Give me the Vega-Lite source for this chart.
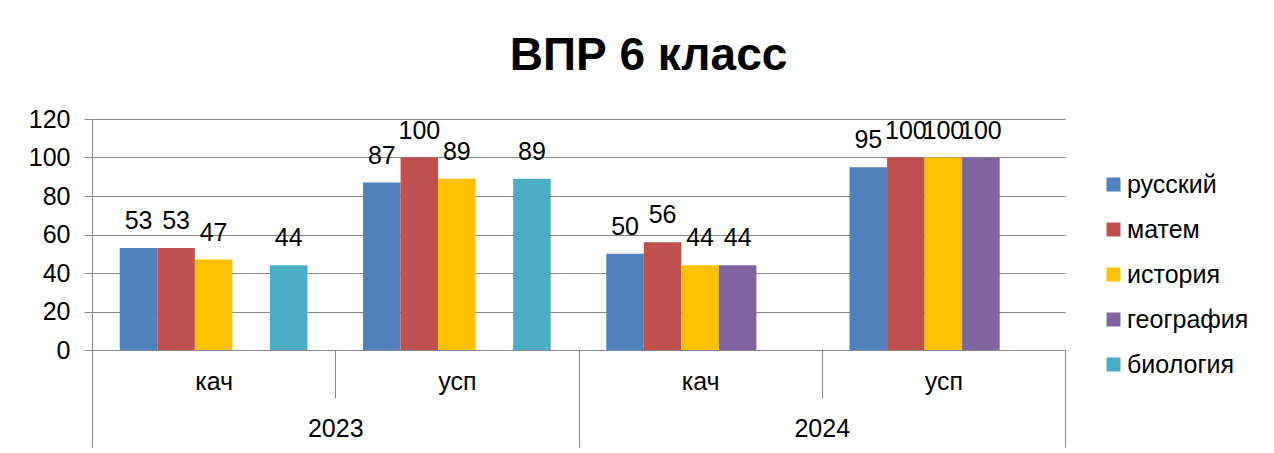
{
  "$schema": "https://vega.github.io/schema/vega-lite/v6.json",
  "autosize": {"type": "none"},
  "width": 973,
  "height": 231,
  "padding": {"left": 92, "top": 119, "right": 209, "bottom": 103},
  "background": "white",
  "title": {"text": "ВПР 6 класс", "fontSize": 46, "fontWeight": "bold", "font": "Liberation Sans", "color": "#000000", "anchor": "middle", "dx": 70, "offset": 27},
  "config": {
    "font": "Liberation Sans",
    "view": {"stroke": null},
    "axis": {"labelFont": "Liberation Sans", "labelFontSize": 25, "labelColor": "#000000", "titleFontSize": 20},
    "axisY": {"values": [0, 20, 40, 60, 80, 100, 120], "labelOverlap": false, "tickCount": 7}
  },
  "data": {"values": [
    {"g": "2023-кач", "year": "2023", "subj": "русский", "v": 53},
    {"g": "2023-кач", "year": "2023", "subj": "матем", "v": 53},
    {"g": "2023-кач", "year": "2023", "subj": "история", "v": 47},
    {"g": "2023-кач", "year": "2023", "subj": "биология", "v": 44},
    {"g": "2023-усп", "year": "2023", "subj": "русский", "v": 87},
    {"g": "2023-усп", "year": "2023", "subj": "матем", "v": 100},
    {"g": "2023-усп", "year": "2023", "subj": "история", "v": 89},
    {"g": "2023-усп", "year": "2023", "subj": "биология", "v": 89},
    {"g": "2024-кач", "year": "2024", "subj": "русский", "v": 50},
    {"g": "2024-кач", "year": "2024", "subj": "матем", "v": 56},
    {"g": "2024-кач", "year": "2024", "subj": "история", "v": 44},
    {"g": "2024-кач", "year": "2024", "subj": "география", "v": 44},
    {"g": "2024-усп", "year": "2024", "subj": "русский", "v": 95},
    {"g": "2024-усп", "year": "2024", "subj": "матем", "v": 100},
    {"g": "2024-усп", "year": "2024", "subj": "история", "v": 100},
    {"g": "2024-усп", "year": "2024", "subj": "география", "v": 100}
  ]},
  "resolve": {"scale": {"x": "independent"}, "axis": {"x": "independent"}},
  "layer": [
    {
      "layer": [
        {
          "mark": {"type": "bar"},
          "encoding": {
            "x": {"field": "g", "type": "nominal", "sort": ["2023-кач", "2023-усп", "2024-кач", "2024-усп"],
                  "scale": {"paddingInner": 0, "paddingOuter": 0},
                  "axis": {"title": null, "labelAngle": 0, "labelExpr": "split(datum.value, '-')[1]", "tickBand": "extent", "tickSize": 48, "tickColor": "#888888", "domainColor": "#888888", "labelPadding": -29, "orient": "bottom"}},
            "xOffset": {"field": "subj", "type": "nominal", "sort": ["русский", "матем", "история", "география", "биология"],
                        "scale": {"domain": ["русский", "матем", "история", "география", "биология"], "paddingInner": 0, "paddingOuter": 0.74}},
            "y": {"field": "v", "type": "quantitative",
                  "scale": {"domain": [0, 120], "nice": false},
                  "axis": {"title": null, "values": [0, 20, 40, 60, 80, 100, 120], "labelOverlap": false, "grid": true, "gridColor": "#888888", "domainColor": "#888888", "tickColor": "#888888", "tickSize": 8, "labelPadding": 14}},
            "color": {"field": "subj", "type": "nominal",
                      "scale": {"domain": ["русский", "матем", "история", "география", "биология"], "range": ["#4F81BD", "#C0504D", "#FFC000", "#8064A2", "#4BACC6"]},
                      "legend": {"title": null, "orient": "none", "legendX": 1009, "legendY": 53, "symbolType": "square", "symbolSize": 196, "symbolStrokeWidth": 0, "labelFontSize": 25, "labelFont": "Liberation Sans", "labelColor": "#000000", "rowPadding": 19, "labelOffset": 1}}
          }
        },
        {
          "mark": {"type": "text", "baseline": "alphabetic", "dy": -19, "fontSize": 25, "font": "Liberation Sans", "color": "#000000"},
          "encoding": {
            "x": {"field": "g", "type": "nominal", "sort": ["2023-кач", "2023-усп", "2024-кач", "2024-усп"]},
            "xOffset": {"field": "subj", "type": "nominal", "sort": ["русский", "матем", "история", "география", "биология"]},
            "y": {"field": "v", "type": "quantitative"},
            "text": {"field": "v", "type": "quantitative"}
          }
        }
      ]
    },
    {
      "mark": {"type": "tick", "opacity": 0},
      "encoding": {
        "x": {"field": "year", "type": "nominal",
              "scale": {"paddingInner": 0, "paddingOuter": 0},
              "axis": {"title": null, "labelAngle": 0, "orient": "bottom", "domain": false, "tickBand": "extent", "tickSize": 97, "tickColor": "#888888", "labelPadding": -31}},
        "y": {"datum": 0, "type": "quantitative",
              "axis": {"title": null, "values": [0, 20, 40, 60, 80, 100, 120], "labelOverlap": false, "grid": true, "gridColor": "#888888", "domainColor": "#888888", "tickColor": "#888888", "tickSize": 8, "labelPadding": 14}}
      }
    }
  ]
}
